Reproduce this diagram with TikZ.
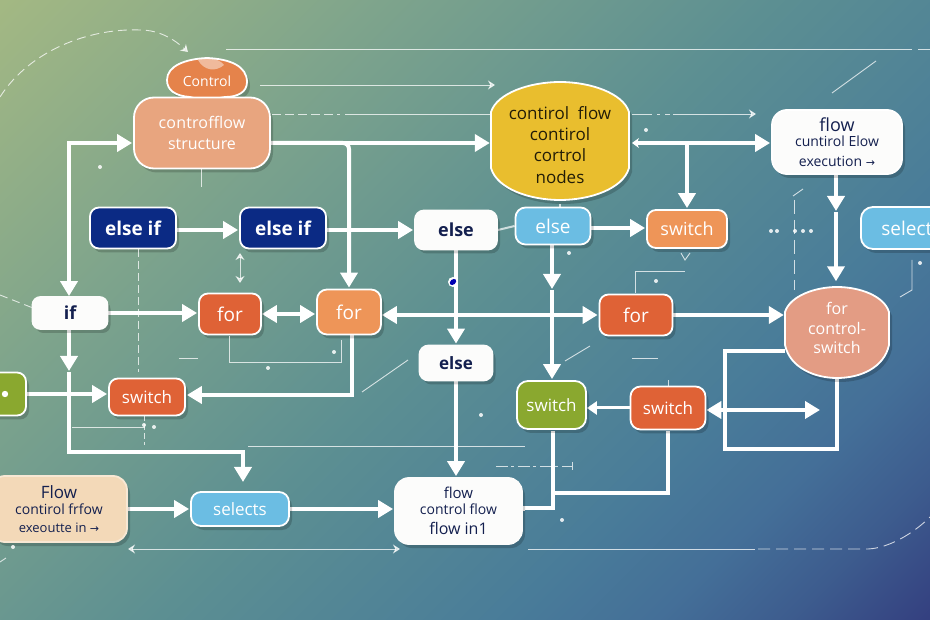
\documentclass[tikz,border=0pt]{standalone}
\usepackage{fontspec}
\setmainfont{Open Sans}
\newfontfamily\arw{DejaVu Sans}
\usetikzlibrary{arrows.meta,shadows,calc}
\definecolor{ga}{HTML}{A3B883}
\definecolor{gb}{HTML}{7EA48C}
\definecolor{gc}{HTML}{5C8F92}
\definecolor{gd}{HTML}{497C99}
\definecolor{ge}{HTML}{446F98}
\definecolor{gg}{HTML}{3D5C8E}
\definecolor{gf}{HTML}{344080}
\pgfdeclarehorizontalshading{bgshade}{100bp}{
 color(0bp)=(ga);
 color(14.65bp)=(ga);
 color(32bp)=(gb);
 color(50bp)=(gc);
 color(66bp)=(gd);
 color(73bp)=(ge);
 color(79bp)=(gg);
 color(85.35bp)=(gf);
 color(100bp)=(gf)}
\definecolor{cnavy}{HTML}{0B2A84}
\definecolor{cink}{HTML}{14204F}
\definecolor{cblue}{HTML}{6BBDE3}
\definecolor{cred}{HTML}{DF6236}
\definecolor{corange}{HTML}{EE9558}
\definecolor{cpeach}{HTML}{E8A57F}
\definecolor{cblob}{HTML}{E5834B}
\definecolor{cyellow}{HTML}{E9BE2E}
\definecolor{cgreen}{HTML}{8AA82F}
\definecolor{csalmon}{HTML}{E39C84}
\definecolor{ctan}{HTML}{F3D9B8}
\definecolor{cpaper}{HTML}{FCFCFB}
\pgfdeclarelayer{bg}
\pgfdeclarelayer{conn}
\pgfsetlayers{bg,conn,main}
\tikzset{
 softshadow/.style={drop shadow={shadow xshift=3pt,shadow yshift=-4pt,fill=black,opacity=.18}},
 card/.style={rectangle,draw=white,line width=1.8pt,inner sep=0pt,align=center,softshadow},
 plate/.style={draw=white,line width=1.8pt,softshadow},
 label/.style={inner sep=0pt,align=center},
 wire/.style={draw=white,line width=4pt,>={Triangle[width=17pt,length=15pt]},shorten >=1pt,shorten <=0pt},
 slim/.style={draw=white,line width=3pt,>={Triangle[width=13pt,length=10pt]}},
 hair/.style={draw=white,opacity=.75,line width=.9pt,>={Stealth[width=9pt,length=7pt]}},
 hairdash/.style={hair,dash pattern=on 8pt off 4pt},
 speck/.style={fill=white,opacity=.85},
}
\newcommand{\tx}[1]{\fontsize{#1}{#1}\selectfont}
\begin{document}
\begin{tikzpicture}[x=1pt,y=-1pt]
\path[use as bounding box,clip] (0,0) rectangle (930,620);
\begin{pgfonlayer}{bg}
\shade[shading=bgshade,shading angle=-45] (0,0) rectangle (930,620);
\end{pgfonlayer}

% custom outlines
\path[plate,fill=cblob] (167,80) .. controls (167,66) and (185,59) .. (207,58) .. controls (230,59) and (247,66) .. (247,82) .. controls (247,92) and (238,97) .. (225,97) .. controls (210,100) and (200,100) .. (190,97) .. controls (175,96) and (167,90) .. cycle;
\path[fill=white,fill opacity=.45] (198,60) .. controls (203,57) and (218,57) .. (224,65) .. controls (216,72) and (204,71) .. cycle;
\path[plate,fill=cyellow] (491,112) .. controls (497,93) and (530,82) .. (560,82) .. controls (590,82) and (623,93) .. (629,112) -- (629,168) .. controls (623,189) and (590,200) .. (560,200) .. controls (530,200) and (497,189) .. (491,168) -- cycle;
\path[plate,fill=csalmon] (785,312) .. controls (790,296) and (815,287) .. (837,287) .. controls (860,287) and (884,296) .. (889,312) -- (889,345) .. controls (884,368) and (860,378) .. (837,378) .. controls (815,378) and (790,368) .. (785,345) -- cycle;

% nodes
\node[label,white,minimum width=80pt,minimum height=42pt] (ctrl) at (207,81) {\tx{14}Control};
\node[card,fill=cpeach,text=white,rounded corners=20pt,minimum width=136pt,minimum height=71pt] (structure) at (202,133) {\tx{16}\addfontfeature{LetterSpace=1}controfflow\\[9pt]\tx{16}structure};
\node[label,text=black!85!cyellow,minimum width=138pt,minimum height=118pt] (yellow) at (560,145) {\tx{17}contirol\ \ flow\\[7pt]\tx{17}contirol\\[7pt]\tx{17}cortrol\\[7pt]\tx{17}nodes};
\node[card,fill=cpaper,text=cink,rounded corners=15pt,minimum width=130pt,minimum height=64pt] (flowtop) at (837,142) {\tx{18}flow\\[3pt]\tx{14}cuntirol Elow\\[8pt]\tx{14}execution {\arw\tx{11}→}};
\node[card,fill=cnavy,text=white,rounded corners=9pt,minimum width=86pt,minimum height=41pt] (elif) at (133,228) {\tx{19}\bfseries else if};
\node[card,fill=cnavy,text=white,rounded corners=9pt,minimum width=86pt,minimum height=41pt] (elifb) at (283,228) {\tx{19}\bfseries else if};
\node[card,fill=cpaper,draw=cpaper,text=cink,rounded corners=9pt,minimum width=82pt,minimum height=39pt] (elsew) at (456,230) {\tx{18}\bfseries else};
\node[card,fill=cblue,text=white,rounded corners=10pt,minimum width=75pt,minimum height=37pt] (elseb) at (553,226) {\tx{19}else};
\node[card,fill=corange,text=white,rounded corners=9pt,minimum width=80pt,minimum height=38pt] (swo) at (687,229) {\tx{18}switch};
\node[card,fill=cblue,text=white,rounded corners=12pt,minimum width=92pt,minimum height=42pt,anchor=west] (selectr) at (860,228) {\tx{19}select};
\node[card,fill=cpaper,draw=cpaper,text=cink,rounded corners=8pt,minimum width=75pt,minimum height=32pt] (ifn) at (70,313) {\tx{18}\bfseries if};
\node[card,fill=cred,text=white,rounded corners=9pt,minimum width=62pt,minimum height=41pt] (forr) at (230,314) {\tx{19}for};
\node[card,fill=corange,text=white,rounded corners=10pt,minimum width=64pt,minimum height=45pt] (forb) at (349,312) {\tx{19}for};
\node[card,fill=cred,text=white,rounded corners=9pt,minimum width=73pt,minimum height=41pt] (forc) at (636,315) {\tx{19}for};
\node[label,text=white,minimum width=104pt,minimum height=91pt] (forbig) at (837,328) {\tx{16}for\\[6pt]\tx{16}control-\\[6pt]\tx{16}switch};
\node[card,fill=cpaper,draw=cpaper,text=cink,rounded corners=9pt,minimum width=73pt,minimum height=35pt] (elsel) at (456,363) {\tx{17}\bfseries else};
\node[card,fill=cgreen,text=white,rounded corners=9pt,minimum width=38pt,minimum height=43pt] (swleft) at (7,394) {};
\node[card,fill=cred,text=white,rounded corners=9pt,minimum width=76pt,minimum height=37pt] (swr) at (147,397) {\tx{17}switch};
\node[card,fill=cgreen,text=white,rounded corners=11pt,minimum width=69pt,minimum height=48pt] (swg) at (551.5,405) {\tx{17}switch};
\node[card,fill=cred,text=white,rounded corners=10pt,minimum width=75pt,minimum height=43pt] (swrr) at (668,408) {\tx{17}switch};
\node[card,fill=ctan,draw=ctan!60!white,text=cink,rounded corners=14pt,minimum width=136pt,minimum height=66pt] (flowl) at (59,509) {\tx{17}Flow\\[4pt]\tx{14}contirol frfow\\[6pt]\tx{13}exeoutte in {\arw\tx{11}→}};
\node[card,fill=cblue,text=white,rounded corners=10pt,minimum width=98pt,minimum height=34pt] (sel) at (240,509) {\tx{17}selects};
\node[card,fill=cpaper,draw=cpaper,text=cink,rounded corners=14pt,minimum width=127pt,minimum height=66pt] (flowb) at (458.5,511) {\tx{15}flow\\[4pt]\tx{14}control flow\\[7pt]\tx{16}flow in1};

% free ends of connectors
\coordinate (midflow) at (836,212);
\coordinate (midelse) at (552,290);
\coordinate (midif) at (69,372);
\coordinate (knee) at (553,493);
\coordinate (reach) at (821,410);
\coordinate (rowa) at (632,143);

\begin{pgfonlayer}{conn}
% heavy connectors
\draw[wire,<->] (ifn.north -| 69,0) |- ([yshift=-10pt]structure.west);
\draw[wire,->] ([yshift=-10pt]structure.east) -- ([yshift=-10pt]structure.east -| yellow.west);
\draw[wire,->,rounded corners=6pt] ([yshift=-10pt]structure.east) -| (forb.north);
\draw[wire,->] ([yshift=-2pt]elif.east) -- ([yshift=-2pt]elifb.west);
\draw[wire,->] ([yshift=-2pt]elifb.east) -- (elsew.west);
\draw[wire,->] (elsew.south) -- (elsew.south |- elsel.north);
\draw[wire,->] (elsel.south) -- (elsel.south |- flowb.north);
\draw[wire,->] (elseb.south -| midelse) -- (midelse);
\draw[wire,->] (midelse) -- (swg.north -| midelse);
\draw[wire,->] ([yshift=-2pt]elseb.east) -- ([yshift=-2pt]elseb.east -| swo.west);
\draw[wire,{Stealth[width=10pt,length=7pt]}->] (rowa) -- (rowa -| flowtop.west);
\draw[wire,->] (rowa -| swo.north) -- (swo.north);
\draw[wire,->] (flowtop.south -| midflow) -- (midflow);
\draw[wire,->] (midflow) -- (forbig.north -| midflow);
\draw[wire,->] (ifn.east) -- (ifn.east -| forr.west);
\draw[wire,<->] (forr.east) -- (forb.west |- forr.east);
\draw[wire,<->] (forb.east |- forc.west) -- (forc.west);
\draw[wire,->] (forc.east) -- (forbig.west |- forc.east);
\draw[wire,->] (ifn.south -| midif) -- (midif);
\draw[wire,->] (midif) |- (243,452) -- (243,483);
\draw[wire,->] (swleft.east) -- (swleft.east -| swr.west);
\draw[wire,->] (forb.south -| 352,0) |- ([yshift=2pt]swr.east);
\draw[wire,->] (flowl.east) -- (flowl.east -| sel.west);
\draw[wire,->] (sel.east) -- (sel.east -| flowb.west);
\draw[wire] (flowb.east) -- ++(0,-3) -| (swg.south -| knee);
\draw[wire] (knee) -| (swrr.south);
\draw[slim,->] (swrr.west) -- (swrr.west -| swg.east);
\draw[wire,<->] (swrr.east |- reach) -- (reach);
\draw[wire] ([yshift=-23pt]forbig.west) -| (725,449) -| (forbig.south);
\draw[draw=white,line width=2pt,opacity=.7] (yellow.south) -- (elseb.north -| yellow.south);
\draw[draw=white,line width=2pt,opacity=.7] (elsew.east) -- (elseb.west);
\end{pgfonlayer}

% small ornaments
\draw[hair,dash pattern=on 9pt off 5pt,->] (0,97) .. controls (30,50) and (90,28) .. (140,30) .. controls (160,30) and (175,40) .. (188,52);
\draw[hair,dash pattern=on 8pt off 5pt] (0,295) -- (33,308);
\draw[hair] (226,49) -- (912,49) (918,49) -- (930,49);
\draw[hair,->] (260,85) -- (495,85);
\draw[hair,dash pattern=on 9pt off 4pt] (272,114) -- (340,114);
\draw[hair] (345,114) -- (491,114);
\draw[hair,dash pattern=on 20pt off 5pt on 3pt off 5pt] (632,114) -- (670,114);
\draw[hair,->] (673,114) -- (756,114);
\draw[hair] (832,93) -- (876,61);
\draw[hair,dash pattern=on 14pt off 6pt] (794,200) -- (794,290);
\draw[hair] (793,196) -- (803,189);
\draw[hair] (201,168) -- (201,187);
\draw[hairdash] (138,249) -- (138,372);
\draw[hair,<->] (240,253) -- (240,283);
\draw[hair] (681,253) -- (685,260) -- (690,253);
\draw[hair] (635,293) -- (635,271) -- (685,271);
\draw[hair] (912,260) -- (912,290) -- (900,297);
\draw[hair] (229,336) -- (229,362) -- (341,362) -- (341,340);
\draw[hair] (179,358) -- (198,358);
\draw[hair] (362,392) -- (408,360);
\draw[hair] (72,427) -- (145,427);
\draw[hair,dash pattern=on 6pt off 3pt] (144,415) -- (144,445);
\draw[hair] (248,446) -- (525,446);
\draw[hair,<->] (128,549) -- (400,549);
\draw[hair] (528,549) -- (755,549);
\draw[hair,dash pattern=on 12pt off 6pt] (758,549) -- (868,549) .. controls (890,548) and (915,532) .. (930,517);
\draw[hair,dash pattern=on 12pt off 3pt on 3pt off 4pt] (496,466) -- (572,466);
\draw[hair] (572,462) -- (572,470);
\draw[hair] (565,361) -- (590,346);
\draw[hair] (632,358) -- (658,358);
\draw[hair] (0,562) -- (6,558);
\draw[hair] (668,380) -- (668,386);
\foreach \px/\py in {100/167,646/130,569/253,656/281,920/263,334/352,268/368,144/425,154/427,481/415,562/520,771/231,777/231,795/231,803/231,811/231,13/547}
  \fill[speck] (\px,\py) circle (2pt);
\fill[white] (5,394) circle (3.2pt);
\fill[white] (453,282) circle (5pt);
\fill[blue!70!black,rotate around={40:(453,282)}] (453,282) ellipse (3.6pt and 2.6pt);
\end{tikzpicture}
\end{document}
